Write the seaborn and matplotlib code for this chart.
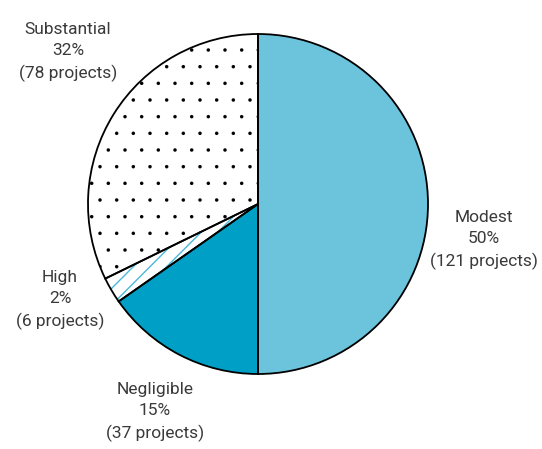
import matplotlib
matplotlib.use('Agg')
import matplotlib.pyplot as plt
import seaborn as sns

# data
categories = ['Modest', 'Negligible', 'High', 'Substantial']
projects = [121, 37, 6, 78]
percents = ['50%', '15%', '2%', '32%']
fill_colors = ['#6bc4db', '#00a0c6', 'white', 'white']
hatch_colors = ['#6bc4db', '#00a0c6', '#4ab8d6', 'black']
hatches = [None, None, '//', '.']
hatch_widths = [1.0, 1.0, 1.0, 0.1]

sns.set_theme(style='white')
plt.rcParams['font.family'] = ['Roboto', 'DejaVu Sans']

fig = plt.figure(figsize=(5.42, 4.49), dpi=100)
ax = fig.add_axes([88 / 542, 75 / 449, 340 / 542, 340 / 449])

# filled / hatched wedges
wedges, _ = ax.pie(projects, startangle=90, counterclock=False,
                   colors=fill_colors, radius=1,
                   wedgeprops=dict(linewidth=0))
for w, h, hc, hw in zip(wedges, hatches, hatch_colors, hatch_widths):
    if h:
        w.set_hatch(h)
        w.set_edgecolor(hc)
        if hasattr(w, 'set_hatch_linewidth'):
            w.set_hatch_linewidth(hw)
        else:
            w._hatch_linewidth = hw

# outlines on top
ax.pie(projects, startangle=90, counterclock=False, radius=1,
       wedgeprops=dict(facecolor='none', edgecolor='black', linewidth=1.3))

ax.set_xlim(-1, 1)
ax.set_ylim(-1, 1)
ax.set_aspect('equal')
ax.axis('off')

# label positions (data coords)
label_pos = [(1.33, -0.212), (-0.606, -1.225), (-1.165, -0.565), (-1.118, 0.894)]
for cat, pct, n, (x, y) in zip(categories, percents, projects, label_pos):
    ax.text(x, y, f'{cat}\n{pct}\n({n} projects)', ha='center', va='center',
            fontsize=12.5, color='#3a3a3a', linespacing=1.5, clip_on=False)

plt.savefig('out.png', dpi=100)
